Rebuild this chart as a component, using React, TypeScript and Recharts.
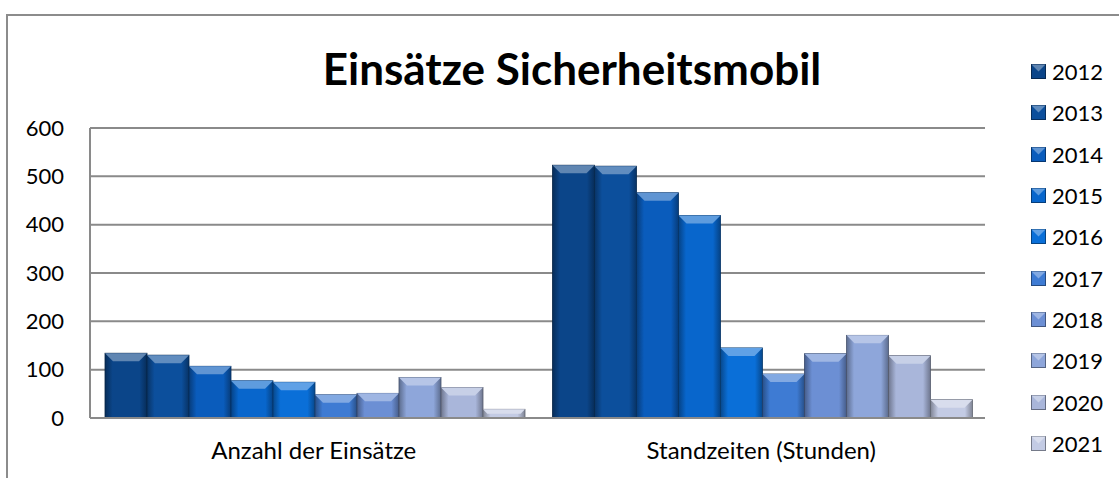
// App.tsx
import React from 'react';
import { BarChart, Bar, XAxis, YAxis, CartesianGrid } from 'recharts';

const categories = ['Anzahl der Einsätze', 'Standzeiten (Stunden)'];
const years = ['2012', '2013', '2014', '2015', '2016', '2017', '2018', '2019', '2020', '2021'];
const anzahl = [134, 130, 107, 77, 74, 48, 51, 84, 63, 18];
const standzeiten = [523, 521, 466, 419, 145, 91, 133, 171, 129, 38];
const yTicks = [0, 100, 200, 300, 400, 500, 600];
const colors = ['#0b4589', '#0c4f9c', '#0a5cbc', '#0866cc', '#0a6fd8', '#3e7bd3', '#6c8fd4', '#8ea6da', '#a9b6da', '#c3cbe4'];

const data = categories.map((name, i) => {
  const row: Record<string, string | number> = { name };
  years.forEach((y, j) => {
    row[y] = i === 0 ? anzahl[j] : standzeiten[j];
  });
  return row;
});

const mix = (hex: string, target: number, amt: number) => {
  const n = parseInt(hex.slice(1), 16);
  const ch = [(n >> 16) & 255, (n >> 8) & 255, n & 255].map((c) => Math.round(c + (target - c) * amt));
  return '#' + ch.map((c) => c.toString(16).padStart(2, '0')).join('');
};

const FONT = 'Lato, "Open Sans", sans-serif';

// bar with a bevelled top and shaded sides, like the office 3d style
const BevelBar = (props: any) => {
  const { x, y, width, height, color } = props;
  if (!height || height <= 0) return null;
  const b = Math.min(8, height / 2, width / 2);
  const light = mix(color, 255, 0.35);
  const dark = mix(color, 0, 0.35);
  const id = 'g' + color.slice(1);
  return (
    <g>
      <defs>
        <linearGradient id={id} x1="0" y1="0" x2="1" y2="0">
          <stop offset="0%" stopColor={dark} />
          <stop offset="18%" stopColor={color} />
          <stop offset="82%" stopColor={color} />
          <stop offset="100%" stopColor={dark} />
        </linearGradient>
      </defs>
      <rect x={x} y={y} width={width} height={height} fill={`url(#${id})`} stroke={mix(color, 0, 0.5)} strokeWidth={0.8} />
      <polygon
        points={`${x},${y} ${x + width},${y} ${x + width - b},${y + b} ${x + b},${y + b}`}
        fill={light}
      />
    </g>
  );
};

const YearLegend = () => (
  <div style={{ position: 'absolute', left: 1031, top: 51, fontFamily: FONT, fontSize: 22, color: '#000' }}>
    {years.map((yr, i) => (
      <div key={yr} style={{ height: 41.3, display: 'flex', alignItems: 'center', whiteSpace: 'nowrap' }}>
        <svg width={15} height={15} style={{ marginRight: 6 }}>
          <rect x={0.5} y={0.5} width={14} height={14} fill={colors[i]} stroke={mix(colors[i], 0, 0.4)} />
          <polygon points="0.5,0.5 14.5,0.5 7.5,7.5" fill={mix(colors[i], 255, 0.35)} />
        </svg>
        <span>{yr}</span>
      </div>
    ))}
  </div>
);

export default function App() {
  return (
    <div style={{ position: 'absolute', left: 0, top: 0, width: 1119, height: 478, background: '#fff', overflow: 'hidden' }}>
      <div
        style={{
          position: 'absolute',
          left: 6,
          top: 14,
          width: 1200,
          height: 500,
          borderTop: '2px solid #8c8c8c',
          borderLeft: '2px solid #8c8c8c',
        }}
      />
      <div
        style={{
          position: 'absolute',
          left: 572,
          top: 40,
          transform: 'translateX(-50%)',
          whiteSpace: 'nowrap',
          fontFamily: FONT,
          fontWeight: 700,
          fontSize: 44,
          lineHeight: '56px',
        }}
      >
        Einsätze Sicherheitsmobil
      </div>
      <div style={{ position: 'absolute', left: 0, top: 0 }}>
        <BarChart
          width={1119}
          height={478}
          data={data}
          margin={{ top: 128, right: 134, left: 0, bottom: 30 }}
          barCategoryGap={15}
          barGap={0}
        >
          <CartesianGrid vertical={false} stroke="#8a8a8a" strokeWidth={2} />
          <XAxis
            dataKey="name"
            height={30}
            axisLine={{ stroke: '#8a8a8a', strokeWidth: 2 }}
            tickLine={false}
            tickMargin={18}
            tick={{ fill: '#000', fontSize: 24, fontFamily: FONT }}
          />
          <YAxis
            domain={[0, 600]}
            ticks={yTicks}
            width={90}
            axisLine={{ stroke: '#8a8a8a', strokeWidth: 2 }}
            tickLine={false}
            tickSize={0}
            tickMargin={26}
            tick={{ fill: '#000', fontSize: 22, fontFamily: FONT }}
          />
          {years.map((yr, i) => (
            <Bar
              key={yr}
              dataKey={yr}
              fill={colors[i]}
              isAnimationActive={false}
              shape={(p: any) => <BevelBar {...p} color={colors[i]} />}
            />
          ))}
        </BarChart>
      </div>
      <YearLegend />
    </div>
  );
}
